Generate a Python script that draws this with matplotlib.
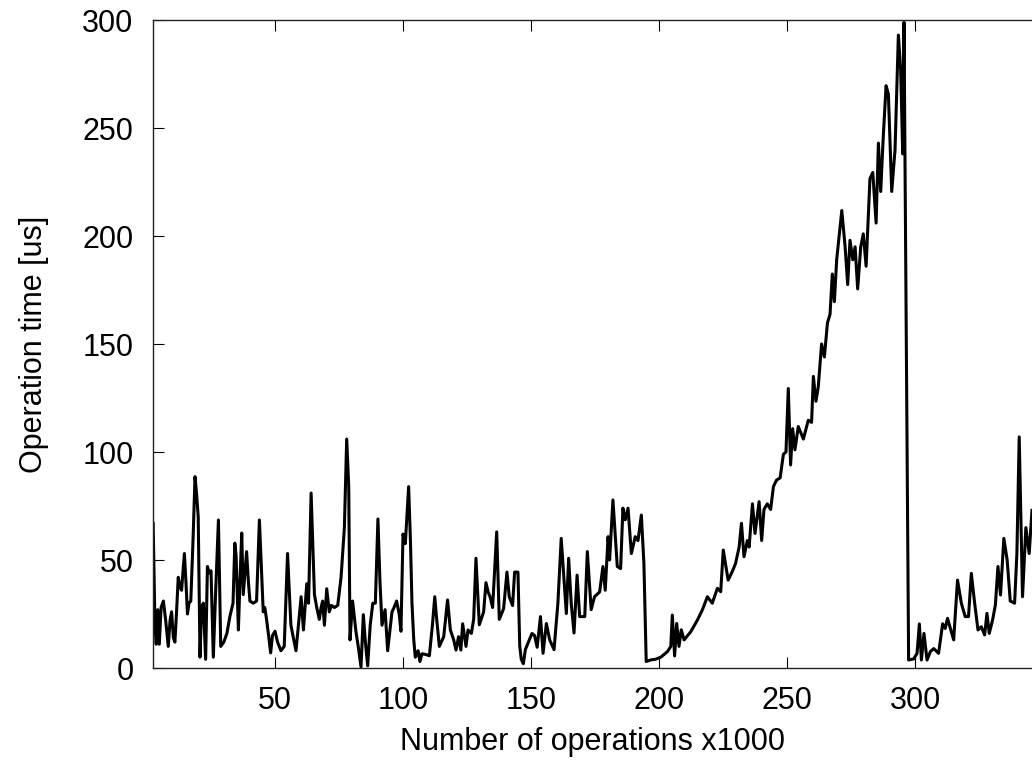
import matplotlib
matplotlib.use('Agg')
import matplotlib.pyplot as plt

plt.rcParams['font.family'] = ['Liberation Sans', 'DejaVu Sans']

ops_k = [
    2.4, 3.1, 3.6, 4.2, 4.8, 5.5, 6.4, 7.3, 8.3, 9.0, 9.6, 10.3, 10.9, 11.5, 12.2, 12.8, 13.5, 14.0,
    14.6, 15.2, 15.8, 16.4, 17.1, 18.0, 18.75, 19.4, 20.0, 20.7, 21.3, 22.0, 22.9, 23.6, 24.3, 25.0,
    25.9, 26.8, 27.9, 28.8, 30.0, 31.2, 32.4, 33.6, 34.3, 34.8, 35.7, 36.3, 37.0, 37.6, 38.3, 38.9,
    39.6, 40.2, 41.5, 42.8, 43.9, 45.4, 46.0, 46.7, 47.5, 48.3, 49.0, 50.0, 51.0, 52.3, 53.6, 54.9,
    56.2, 57.0, 58.2, 59.0, 60.2, 61.1, 62.4, 63.1, 64.1, 65.4, 66.3, 67.3, 68.0, 68.6, 69.3, 70.2,
    71.2, 72.0, 73.2, 74.5, 75.8, 77.1, 78.0, 78.8, 79.3, 80.3, 81.6, 82.5, 83.6, 84.5, 85.3, 86.2,
    87.2, 88.2, 89.2, 90.2, 91.0, 91.8, 93.0, 94.0, 95.7, 96.5, 97.5, 98.5, 99.2, 100.0, 100.9, 101.5,
    102.2, 102.9, 103.5, 104.2, 104.8, 105.9, 106.6, 107.4, 108.7, 110.3, 111.5, 112.4, 113.2, 114.2,
    115.9, 117.4, 118.5, 119.8, 120.7, 121.7, 122.6, 123.3, 124.6, 125.4, 126.7, 127.6, 128.5, 129.8,
    131.5, 132.4, 133.3, 134.1, 135.0, 136.6, 137.6, 139.3, 140.6, 141.5, 142.8, 143.6, 144.9, 145.6,
    146.2, 147.0, 147.8, 148.8, 150.4, 151.4, 152.4, 153.7, 154.7, 156.0, 157.3, 159.0, 160.5, 161.8,
    163.1, 163.8, 164.7, 165.7, 166.8, 168.0, 169.0, 171.0, 172.0, 173.5, 174.8, 176.8, 178.1, 179.0,
    180.1, 180.7, 182.0, 183.7, 185.0, 185.9, 186.8, 187.9, 189.2, 190.7, 191.8, 193.1, 194.1, 195.0,
    197.0, 198.5, 200.7, 203.3, 204.6, 205.2, 206.1, 206.9, 207.8, 208.7, 209.8, 212.4, 215.0, 216.9,
    218.9, 220.8, 222.8, 224.1, 225.1, 227.0, 228.6, 229.9, 231.3, 232.2, 233.2, 234.5, 235.2, 236.5,
    237.5, 239.1, 240.1, 241.0, 242.3, 243.6, 244.7, 245.9, 247.3, 248.6, 249.6, 250.5, 251.4, 252.2,
    253.1, 254.4, 256.4, 258.3, 259.6, 260.3, 261.3, 262.2, 263.5, 264.6, 265.8, 266.8, 267.7, 268.5,
    269.4, 271.4, 272.7, 273.7, 274.6, 275.7, 276.6, 277.6, 278.8, 279.8, 280.9, 282.4, 283.5, 284.8,
    285.7, 286.6, 287.6, 288.7, 289.6, 290.9, 292.2, 293.5, 294.4, 295.2, 295.7, 297.5, 299.5, 300.8,
    301.7, 302.5, 303.5, 304.7, 306.0, 307.3, 309.2, 310.8, 311.8, 312.7, 314.2, 315.1, 316.6, 318.1,
    319.6, 320.9, 322.0, 323.3, 324.6, 325.9, 327.2, 328.1, 329.0, 330.3, 331.4, 332.4, 333.4, 334.7,
    336.0, 337.2, 338.9, 339.8, 340.7, 342.0, 343.3, 344.6, 345.7,
]
op_time_us = [
    67, 20, 11, 27, 11, 28, 31, 22, 10, 22, 26, 14, 12, 25, 42, 38, 36, 44,
    53, 40, 25, 30, 31, 60, 88.6, 80, 70, 5, 28, 30, 4, 47, 44, 45,
    5, 35, 68.5, 10, 12, 16, 24, 30, 57.8, 52, 17.6, 40, 62.5, 34, 45, 53.9,
    40, 31, 30, 31, 68.5, 26, 28, 22.5, 15, 7, 15, 17, 12, 8, 10, 53,
    20, 15, 8, 18, 33, 17.6, 39, 30, 81, 34, 28, 22.5, 28, 31, 19.8, 36.7,
    26, 29, 28, 29, 42, 65, 106, 84, 13, 31, 17, 10, 0.5, 24.7, 12, 1,
    20, 30, 30, 69, 40, 19.8, 27, 8, 26, 28, 31, 25, 17, 62, 57.6, 70,
    84, 59, 30, 13, 5, 8, 3, 6.6, 6.3, 5.7, 20, 33, 22, 10,
    14.5, 31.5, 17.6, 13, 8.3, 14.5, 8.3, 20.5, 10, 17.6, 16, 22.5, 50.8, 20,
    26, 39.5, 35, 32.6, 28, 63, 22.5, 27.5, 44.4, 33, 28.9, 44.4, 44.4, 10,
    4, 2, 8.5, 11.5, 16, 15, 9.6, 23.8, 6.8, 20.6, 13, 8.5, 30, 60,
    37.6, 25.2, 50.8, 30, 16.2, 43, 23.8, 23.8, 53.9, 27, 33, 35.2, 47, 36,
    60.8, 50, 77.8, 47, 46, 74, 68.6, 74, 53, 60.8, 59, 70.8, 48.4, 3,
    3.8, 4, 5, 7.6, 10, 24.5, 5.6, 20.6, 10, 17.7, 13, 16.8, 22.2, 26.8,
    33, 30, 36.9, 35.3, 54.6, 40.7, 44.6, 48.4, 56, 67, 51.5, 59, 56, 76,
    62.3, 77, 59, 73.4, 76, 73.4, 84, 87, 88, 99, 100, 129.4, 94, 110.8,
    101, 111.8, 106, 114.7, 113.7, 135, 123.5, 130, 150, 144, 159.8, 163.7, 182.4, 169.6,
    189, 211.8, 195, 177.5, 198, 189, 195, 175.5, 195, 201, 186, 226.5, 229.4, 206,
    243, 220.6, 246, 269.6, 265.7, 220.6, 240, 293, 277, 238, 299, 3.7, 4.2, 6.8,
    20.4, 3.7, 16, 3.7, 7.6, 9, 6.8, 20.5, 18.3, 23, 16.8, 13, 40.7, 30,
    23.8, 23.8, 43.8, 30, 17.6, 19.1, 15.3, 25.3, 16, 22.2, 29.2, 47, 33.8, 60,
    50, 31, 30, 53, 107, 33, 65, 53, 73,
]

x_ticks = [50, 100, 150, 200, 250, 300]
y_ticks = [0, 50, 100, 150, 200, 250, 300]

fig = plt.figure(figsize=(10.32, 7.61), dpi=100)
ax = fig.add_axes([153 / 1032, 93 / 761, 879 / 1032, 648 / 761])

ax.plot(ops_k, op_time_us, color='black', linewidth=2.2)

ax.set_xlim(2.34, 345.7)
ax.set_ylim(0, 300)
ax.set_xticks(x_ticks)
ax.set_yticks(y_ticks)

fs = 22
ax.tick_params(axis='x', direction='in', length=8, width=0.8, top=True, labelsize=fs, pad=13)
ax.tick_params(axis='y', direction='in', length=8, width=0.8, right=False, labelsize=fs, pad=14)
ax.spines['right'].set_visible(False)
for s in ['left', 'bottom', 'top']:
    ax.spines[s].set_linewidth(1.0)
    ax.spines[s].set_color('#222222')

ax.set_xlabel('Number of operations x1000', fontsize=fs, labelpad=8)
ax.set_ylabel('Operation time [us]', fontsize=fs, labelpad=24)

plt.savefig('out.png', dpi=100)
plt.close()
